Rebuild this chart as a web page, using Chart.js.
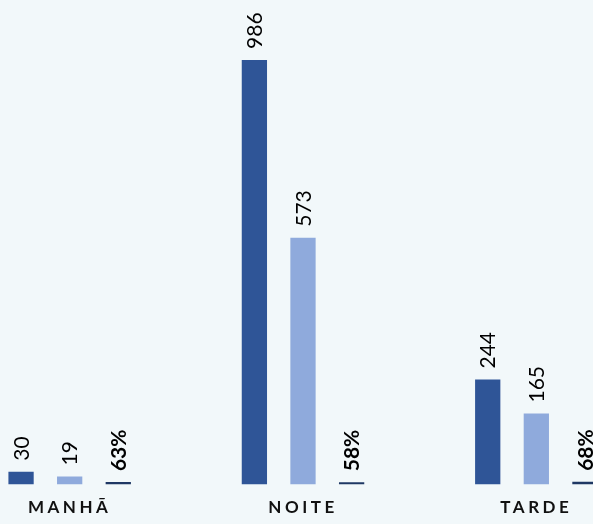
<!DOCTYPE html>
<html>
<head>
<meta charset="utf-8">
<script src="https://cdn.jsdelivr.net/npm/chart.js@4"></script>
<style>
  html, body { margin: 0; padding: 0; background: #F2F8FA; overflow: hidden; width: 593px; height: 524px; }
  #wrap { position: absolute; left: -47px; top: 0; width: 700px; height: 537px; }
</style>
</head>
<body>
<div id="wrap"><canvas id="chart"></canvas></div>
<script>
const categories = ["MANHÃ", "NOITE", "TARDE"];
const totalValues = [30, 986, 244];
const partValues = [19, 573, 165];
const pctValues = [63, 58, 68];

// draws the rotated value labels above each bar
const barLabels = {
  id: "barLabels",
  afterDatasetsDraw(chart) {
    const ctx = chart.ctx;
    chart.data.datasets.forEach((ds, i) => {
      const meta = chart.getDatasetMeta(i);
      meta.data.forEach((bar, j) => {
        const text = ds.isPct ? `${ds.raw[j]}%` : `${ds.data[j]}`;
        ctx.save();
        ctx.translate(bar.x + 1, bar.y - 11);
        ctx.rotate(-Math.PI / 2);
        ctx.font = (ds.isPct ? "bold " : "") + "21px Lato";
        ctx.fillStyle = "#000";
        ctx.textAlign = "left";
        ctx.textBaseline = "middle";
        ctx.fillText(text, 0, 0);
        ctx.restore();
      });
    });
  },
};

const spacing = {
  id: "spacing",
  beforeDraw(chart) { chart.ctx.letterSpacing = "3.5px"; },
  beforeDatasetsDraw(chart) { chart.ctx.letterSpacing = "0px"; },
};

new Chart(document.getElementById("chart"), {
  type: "bar",
  plugins: [spacing, barLabels],
  data: {
    labels: categories,
    datasets: [
      { data: totalValues, backgroundColor: "#2F5597", yAxisID: "y" },
      { data: partValues, backgroundColor: "#8FAADC", yAxisID: "y" },
      { data: pctValues, raw: pctValues, isPct: true, backgroundColor: "#1F3864", yAxisID: "yPct" },
    ],
  },
  options: {
    animation: false,
    responsive: true,
    maintainAspectRatio: false,
    layout: { padding: { top: 0, bottom: 6, left: 0, right: 0 } },
    plugins: {
      legend: { display: false },
      tooltip: { enabled: false },
    },
    datasets: {
      bar: { barPercentage: 0.52, categoryPercentage: 0.625 },
    },
    scales: {
      x: {
        grid: { display: false, drawTicks: false },
        border: { display: false },
        ticks: {
          padding: 13,
          color: "#111",
          font: { family: "Lato", size: 17, weight: "bold" },
        },
      },
      y: { display: false, min: 0, max: 1125 },
      yPct: { display: false, min: 0, max: 12000 },
    },
  },
});
</script>
</body>
</html>
